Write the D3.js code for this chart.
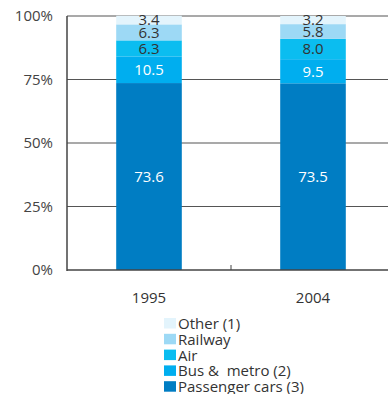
<!DOCTYPE html>
<html>
<head>
<meta charset="utf-8">
<script src="https://cdn.jsdelivr.net/npm/d3@7"></script>
<style>
  body { margin: 0; background: #fff; }
  text { font-family: "Open Sans", "DejaVu Sans", sans-serif; white-space: pre; }
</style>
</head>
<body>
<div id="chart"></div>
<script>
var years = ["1995", "2004"];
var modes = ["Passenger cars (3)", "Bus &  metro (2)", "Air", "Railway", "Other (1)"];
var cars = [73.6, 73.5];
var bus = [10.5, 9.5];
var air = [6.3, 8.0];
var railway = [6.3, 5.8];
var other = [3.4, 3.2];
var yTicks = [0, 25, 50, 75, 100];

var colors = ["#007dc3", "#00aeef", "#0bbdf0", "#9dd9f5", "#e3f4fc"];
var labelColors = ["#ffffff", "#ffffff", "#333333", "#333333", "#333333"];

var width = 388, height = 394;
var margin = {top: 16, left: 67, bottom: 124};
var fs = 15;

var svg = d3.select("#chart").append("svg")
    .attr("width", width)
    .attr("height", height);

var x = d3.scaleBand().domain(years).range([margin.left, margin.left + 328]).paddingInner(0.6).paddingOuter(0.3);
var y = d3.scaleLinear().domain([0, 100]).range([height - margin.bottom, margin.top]);

var table = years.map(function(yr, i) {
    return {year: yr, cars: cars[i], bus: bus[i], air: air[i], railway: railway[i], other: other[i]};
});
var keys = ["cars", "bus", "air", "railway", "other"];
var series = d3.stack().keys(keys)(table);

// gridlines
svg.append("g").selectAll("line")
    .data(yTicks.filter(function(t) { return t > 0; }))
    .enter().append("line")
    .attr("x1", margin.left).attr("x2", width)
    .attr("y1", function(d) { return y(d); })
    .attr("y2", function(d) { return y(d); })
    .attr("stroke", "#555").attr("stroke-width", 1.2);

// bars
var groups = svg.append("g").selectAll("g")
    .data(series).enter().append("g")
    .attr("fill", function(d, i) { return colors[i]; });

groups.selectAll("rect")
    .data(function(d) { return d; })
    .enter().append("rect")
    .attr("x", function(d) { return x(d.data.year); })
    .attr("width", x.bandwidth())
    .attr("y", function(d) { return y(d[1]); })
    .attr("height", function(d) { return y(d[0]) - y(d[1]); });

// value labels
series.forEach(function(s, i) {
    svg.append("g").selectAll("text")
        .data(s).enter().append("text")
        .attr("x", function(d) { return x(d.data.year) + x.bandwidth() / 2; })
        .attr("y", function(d) { return (y(d[0]) + y(d[1])) / 2; })
        .attr("dy", "0.36em")
        .attr("text-anchor", "middle")
        .attr("font-size", fs)
        .attr("fill", labelColors[i])
        .text(function(d) { return d3.format(".1f")(d[1] - d[0]); });
});

// axes
svg.append("line")
    .attr("x1", margin.left).attr("x2", margin.left)
    .attr("y1", y(100)).attr("y2", y(0) + 1)
    .attr("stroke", "#444").attr("stroke-width", 1.5);
svg.append("line")
    .attr("x1", margin.left).attr("x2", width)
    .attr("y1", y(0)).attr("y2", y(0))
    .attr("stroke", "#444").attr("stroke-width", 1.5);
svg.append("line")
    .attr("x1", 231).attr("x2", 231)
    .attr("y1", y(0) - 5).attr("y2", y(0))
    .attr("stroke", "#444").attr("stroke-width", 1);

svg.append("g").selectAll("text")
    .data(yTicks).enter().append("text")
    .attr("x", 53)
    .attr("y", function(d) { return y(d); })
    .attr("dy", "0.36em")
    .attr("text-anchor", "end")
    .attr("font-size", fs)
    .attr("fill", "#444")
    .text(function(d) { return d + "%"; });

// x labels
svg.append("g").selectAll("text")
    .data(years).enter().append("text")
    .attr("x", function(d) { return x(d) + x.bandwidth() / 2; })
    .attr("y", 298)
    .attr("dy", "0.36em")
    .attr("text-anchor", "middle")
    .attr("font-size", fs)
    .attr("fill", "#333")
    .text(function(d) { return d; });

// legend (top to bottom: Other ... Passenger cars)
var legend = svg.append("g").selectAll("g")
    .data(modes.slice().reverse()).enter().append("g")
    .attr("transform", function(d, i) { return "translate(164," + (318 + i * 15.8) + ")"; });
legend.append("rect")
    .attr("width", 12).attr("height", 10.5)
    .attr("fill", function(d, i) { return colors[4 - i]; });
legend.append("text")
    .attr("x", 14).attr("y", 5.5)
    .attr("dy", "0.36em")
    .attr("font-size", fs)
    .attr("fill", "#333")
    .text(function(d) { return d; });
</script>
</body>
</html>
